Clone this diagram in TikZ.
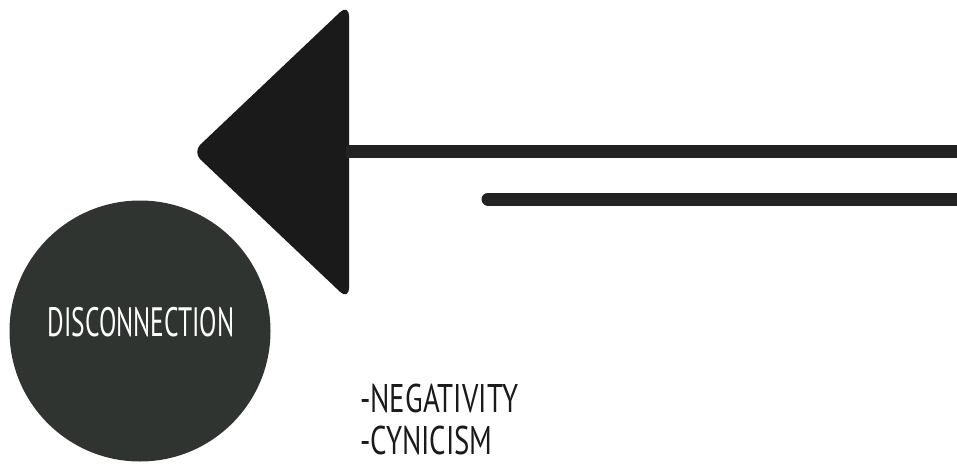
\documentclass[tikz,border=0pt]{standalone}
\usepackage{fontspec}
\usepackage{graphicx}
\newfontfamily\handfont{PT Sans}
\usetikzlibrary{positioning}
\definecolor{discblack}{HTML}{1A1A1A}
\definecolor{discline}{HTML}{222222}
\definecolor{discgrey}{HTML}{2F3431}

\begin{document}
\begin{tikzpicture}[x=1pt,y=-1pt,
  every node/.style={font=\handfont},
  headtri/.style={fill=discblack,draw=discblack,line width=2pt,rounded corners=10pt},
  barline/.style={draw=discline,line width=13pt},
  disc/.style={circle,fill=discgrey,minimum size=261pt,inner sep=0pt},
  listitem/.style={anchor=west,inner sep=0pt,text=discblack,font=\handfont\fontsize{40}{40}\selectfont}
]
\useasboundingbox (0,0) rectangle (957,465);
% arrow head
\coordinate (tiptop) at (348,6);
\coordinate (tipleft) at (194,152);
\coordinate (tipbot) at (348,298);
\path[headtri] (tiptop) -- (tipleft) -- (tipbot) -- cycle;
% bars
\coordinate (bar1a) at (346,152);
\coordinate (bar1b) at (957,152);
\coordinate (bar2a) at (488,199);
\coordinate (bar2b) at (957,199);
\draw[barline] (bar1a) -- (bar1b);
\draw[barline,line cap=round] (bar2a) -- (bar2b);
% circle
\node[disc] (discnode) at (140,331) {};
\node[text=white,inner sep=0pt,font=\handfont\fontsize{41}{41}\selectfont] (disclabel) at (141,322) {\scalebox{0.62}[1]{DISCONNECTION}};
% list
\node[listitem] (negative) at (360,398) {\scalebox{0.72}[1]{-NEGATIVITY}};
\node[listitem,below=13pt of negative.south west,anchor=north west] (cynic) {\scalebox{0.72}[1]{-CYNICISM}};
\end{tikzpicture}
\end{document}
